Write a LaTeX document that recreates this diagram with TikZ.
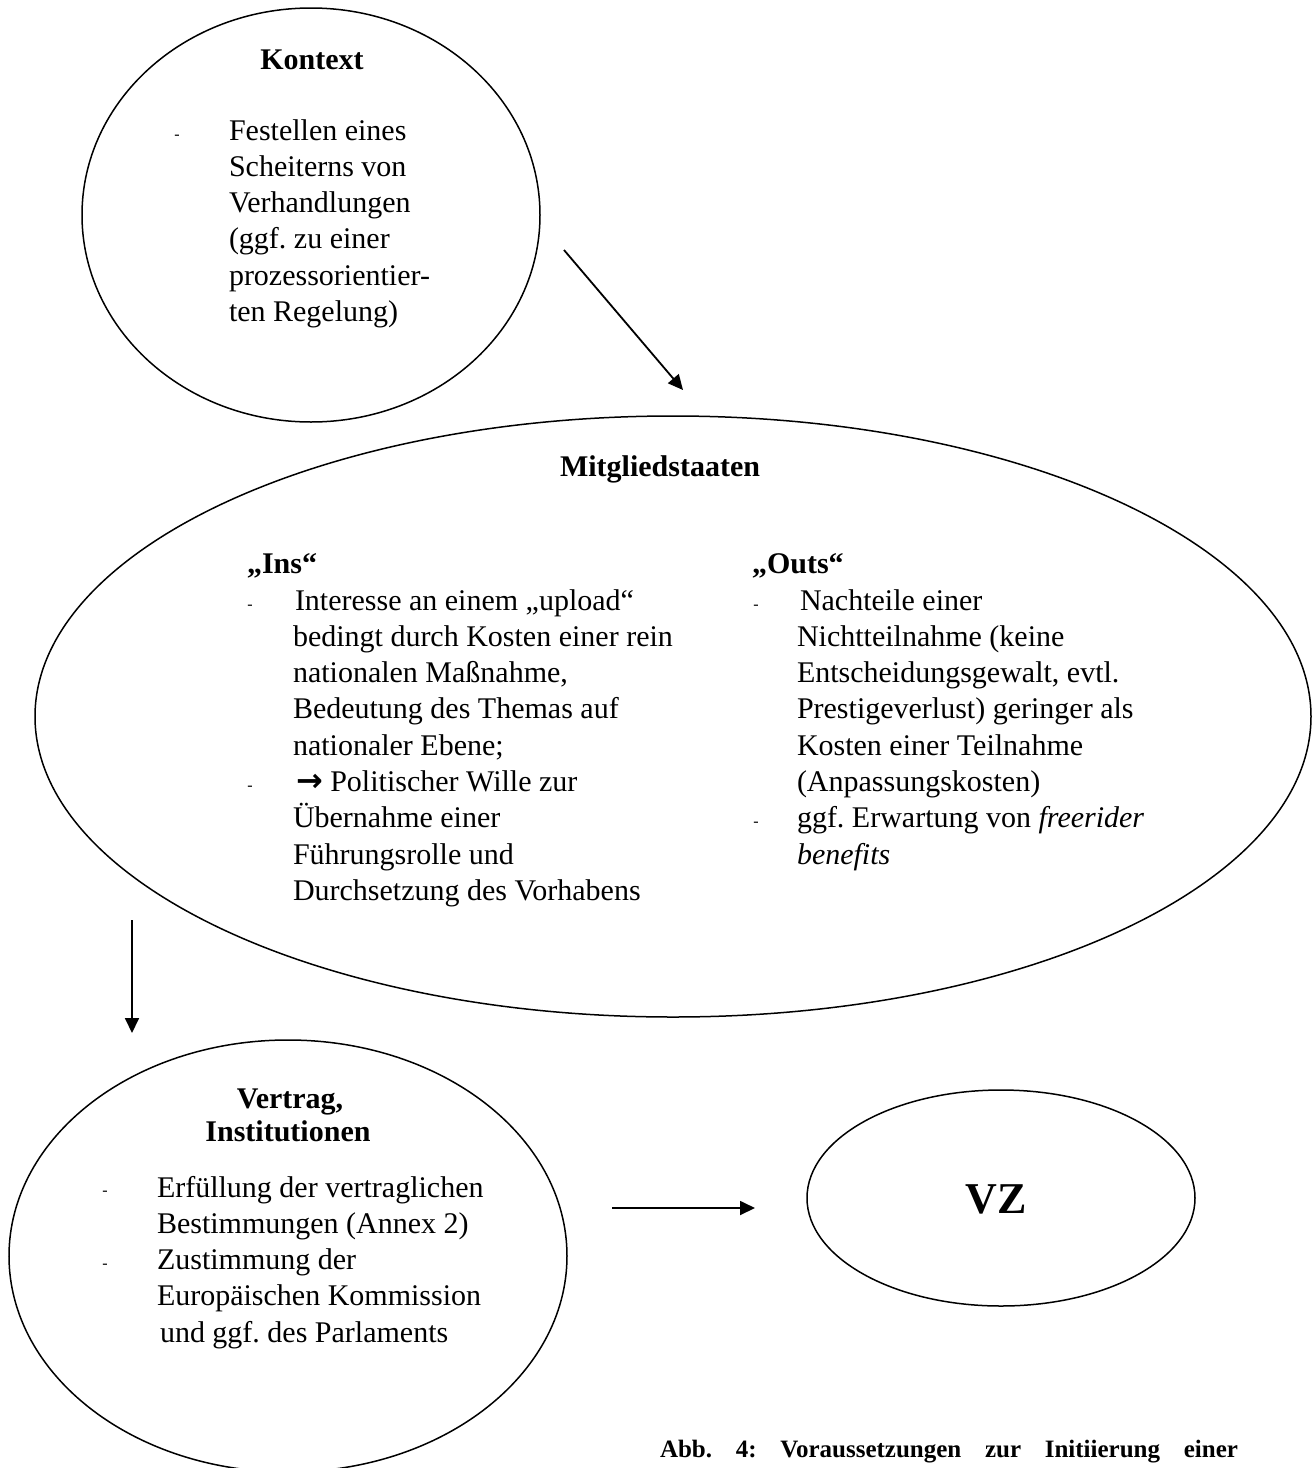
\documentclass[tikz,border=0pt]{standalone}
\usepackage{fontspec}
\setmainfont{Liberation Serif}
\newfontfamily\arrowfont{DejaVu Sans}
\usetikzlibrary{arrows.meta,shapes.geometric}
\frenchspacing
\begin{document}
\begin{tikzpicture}[x=1pt,y=-1pt,
  oval/.style={ellipse,draw,line width=1.5pt,inner sep=0pt,outer sep=0pt},
  arr/.style={line width=1.8pt,-{Triangle[length=15pt,width=14pt]}},
  body/.style={inner sep=0pt,outer sep=0pt,anchor=base west,font=\fontsize{30}{36.3}\selectfont\frenchspacing},
  head/.style={inner sep=0pt,outer sep=0pt,anchor=base,font=\fontsize{30}{33}\selectfont\bfseries},
  headl/.style={head,anchor=base west},
  dashmark/.style={inner sep=0pt,outer sep=0pt,anchor=center,font=\fontsize{16}{16}\selectfont},
  capt/.style={inner sep=0pt,outer sep=0pt,anchor=base west,font=\fontsize{25}{30}\selectfont\bfseries}
]
\useasboundingbox (0,0) rectangle (1314,1468);
\clip (0,0) rectangle (1314,1468);

% ellipses
\node[oval,minimum width=458pt,minimum height=414pt] (kontext) at (311,215) {};
\node[oval,minimum width=1276pt,minimum height=601pt] (mitglied) at (673,716.5) {};
\node[oval,minimum width=558pt,minimum height=432pt] (vertrag) at (288,1256) {};
\node[oval,minimum width=388pt,minimum height=216pt] (vz) at (1001,1198) {};

% Kontext
\node[head] (kh) at (312,69) {Kontext};
\node[dashmark] (kd1) at (177,137) {-};
\node[body] (kb) at (229,140) {\vtop{\hbox{Festellen eines}\hbox{Scheiterns von}\hbox{Verhandlungen}\hbox{(ggf.\ zu einer}\hbox{prozessorientier-}\hbox{ten Regelung)}}};

% Mitgliedstaaten
\node[head] (mh) at (660,476) {Mitgliedstaaten};
\node[headl] (insh) at (247,573) {„Ins“};
\node[dashmark] (id1) at (250,607) {-};
\node[dashmark] (id2) at (250,788) {-};
\node[body] (insb) at (293,610) {\vtop{%
  \hbox{\kern2pt Interesse an einem „upload“}%
  \hbox{bedingt durch Kosten einer rein}%
  \hbox{nationalen Maßnahme,}%
  \hbox{Bedeutung des Themas auf}%
  \hbox{nationaler Ebene;}%
  \hbox{\kern3pt{\arrowfont\bfseries\fontsize{32}{36}\selectfont →} Politischer Wille zur}%
  \hbox{Übernahme einer}%
  \hbox{Führungsrolle und}%
  \hbox{Durchsetzung des Vorhabens}}};

\node[headl] (outh) at (752,573) {„Outs“};
\node[dashmark] (od1) at (756,607) {-};
\node[dashmark] (od2) at (756,824) {-};
\node[body] (outb) at (797,610) {\vtop{%
  \hbox{\kern3pt Nachteile einer}%
  \hbox{Nichtteilnahme (keine}%
  \hbox{Entscheidungsgewalt, evtl.}%
  \hbox{Prestigeverlust) geringer als}%
  \hbox{Kosten einer Teilnahme}%
  \hbox{(Anpassungskosten)}%
  \hbox{ggf.\ Erwartung von \textit{freerider}}%
  \hbox{\textit{benefits}}}};

% Vertrag
\node[head] (vh1) at (290,1108) {Vertrag,};
\node[head] (vh2) at (288,1141) {Institutionen};
\node[dashmark] (vd1) at (105,1193) {-};
\node[dashmark] (vd2) at (105,1266) {-};
\node[body] (vb) at (157,1197) {\vtop{%
  \hbox{Erfüllung der vertraglichen}%
  \hbox{Bestimmungen (Annex 2)}%
  \hbox{Zustimmung der}%
  \hbox{Europäischen Kommission}%
  \hbox{\kern3pt und ggf.\ des Parlaments}}};

% VZ
\node[inner sep=0pt,anchor=base,font=\fontsize{44}{46}\selectfont\bfseries] (vzt) at (996,1213) {VZ};

% arrows
\coordinate (a1s) at (564,250);
\coordinate (a1e) at (683,390);
\coordinate (a2s) at (132,920);
\coordinate (a2e) at (132,1033);
\coordinate (a3s) at (612,1208);
\coordinate (a3e) at (755,1208);
\draw[arr] (a1s) -- (a1e);
\draw[arr] (a2s) -- (a2e);
\draw[arr] (a3s) -- (a3e);

% caption
\node[capt] (cap) at (660,1457) {\makebox[578pt][s]{Abb. 4: Voraussetzungen zur Initiierung einer}};
\end{tikzpicture}
\end{document}
